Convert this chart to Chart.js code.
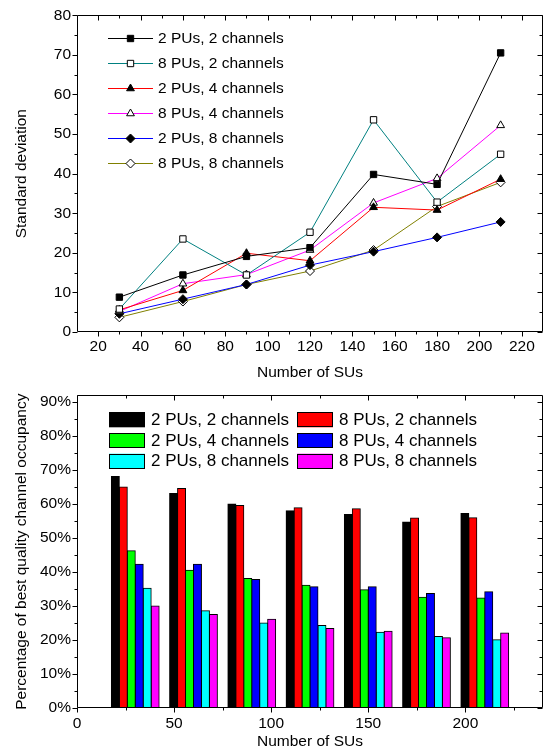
<!DOCTYPE html>
<html>
<head>
<meta charset="utf-8">
<script src="https://cdn.jsdelivr.net/npm/chart.js@4.4.0/dist/chart.umd.min.js"></script>
<style>
    body { margin: 0; background: #fff; }
    .box { position: absolute; left: 0; }
</style>
</head>
<body>
<div class="box" style="top:0"><canvas id="line-chart" width="549" height="380"></canvas></div>
<div class="box" style="top:380px"><canvas id="bar-chart" width="549" height="371"></canvas></div>
<script>
// Number of SUs (x values of both charts)
const suCounts = [30, 60, 90, 120, 150, 180, 210];
const seriesNames = ["2 PUs, 2 channels", "8 PUs, 2 channels", "2 PUs, 4 channels",
                     "8 PUs, 4 channels", "2 PUs, 8 channels", "8 PUs, 8 channels"];

// tick labels
const sdXTicks = [20, 40, 60, 80, 100, 120, 140, 160, 180, 200, 220];
const sdYTicks = [0, 10, 20, 30, 40, 50, 60, 70, 80];
const occXTicks = [0, 50, 100, 150, 200];
const occYTicks = [0, 10, 20, 30, 40, 50, 60, 70, 80, 90];

// Standard deviation (top chart)
const sd2pu2ch = [8.8, 14.4, 19.1, 21.3, 39.8, 37.3, 70.5];
const sd8pu2ch = [5.8, 23.5, 14.4, 25.2, 53.6, 32.8, 44.9];
const sd2pu4ch = [5.6, 10.5, 19.9, 18.0, 31.5, 30.8, 38.6];
const sd8pu4ch = [5.2, 12.2, 14.5, 20.7, 32.6, 38.8, 52.2];
const sd2pu8ch = [4.6, 8.3, 12.0, 16.9, 20.3, 23.9, 27.8];
const sd8pu8ch = [3.7, 7.7, 12.0, 15.4, 20.7, 31.7, 37.8];

// Percentage of best quality channel occupancy (bottom chart)
const occ2pu2ch = [68.1, 63.1, 60.0, 58.0, 56.9, 54.7, 57.2];
const occ8pu2ch = [65.0, 64.6, 59.6, 58.9, 58.6, 55.9, 56.0];
const occ2pu4ch = [46.3, 40.5, 38.1, 36.1, 34.8, 32.6, 32.4];
const occ8pu4ch = [42.3, 42.3, 37.8, 35.7, 35.7, 33.7, 34.2];
const occ2pu8ch = [35.2, 28.6, 25.0, 24.3, 22.3, 21.0, 20.1];
const occ8pu8ch = [30.0, 27.5, 26.1, 23.4, 22.6, 20.7, 22.1];

const FONT = '"Liberation Sans", Arial, sans-serif';
Chart.defaults.font.family = FONT;
Chart.defaults.font.size = 15.5;
Chart.defaults.color = "#000";

const toPoints = (vals) => vals.map((v, i) => ({x: suCounts[i], y: v}));
const fixTicks = (list) => (scale) => { scale.ticks = list.map(v => ({value: v})); };

// frame round the plot area, ticks out on left/bottom and in on top/right
const frameTicks = {
    id: "frameTicks",
    afterDraw(chart) {
        const {ctx, chartArea: a, scales: {x, y}} = chart;
        const L = Math.round(a.left) + 0.5, R = Math.round(a.right) - 0.5;
        const T = Math.round(a.top) + 0.5, B = Math.round(a.bottom) - 0.5;
        ctx.save();
        ctx.strokeStyle = "#000";
        ctx.lineWidth = 1;
        ctx.beginPath();
        ctx.rect(L, T, R - L, B - T);
        const mark = (scale, horiz) => {
            const vals = scale.ticks.map(t => t.value);
            const step = vals[1] - vals[0];
            const minor = [];
            for (let v = vals[0] - step / 2; v < scale.max; v += step) {
                if (v > scale.min) minor.push(v);
            }
            [[vals, 5], [minor, 3]].forEach(([list, len]) => list.forEach(v => {
                const p = Math.round(scale.getPixelForValue(v)) + 0.5;
                if (horiz) {
                    ctx.moveTo(p, B); ctx.lineTo(p, B + len);
                    ctx.moveTo(p, T); ctx.lineTo(p, T + len);
                } else {
                    ctx.moveTo(L, p); ctx.lineTo(L - len, p);
                    ctx.moveTo(R, p); ctx.lineTo(R - len, p);
                }
            }));
        };
        mark(x, true);
        mark(y, false);
        ctx.stroke();
        ctx.restore();
    }
};

// legend with line + marker
const lineLegend = {
    id: "lineLegend",
    afterDraw(chart) {
        const {ctx, chartArea: a} = chart;
        const x0 = a.left + 31, x1 = a.left + 76, tx = a.left + 81;
        ctx.save();
        ctx.font = "15.5px " + FONT;
        ctx.textBaseline = "middle";
        chart.data.datasets.forEach((ds, i) => {
            const yy = Math.round(a.top + 23 + i * 25) + 0.5;
            ctx.strokeStyle = ds.borderColor;
            ctx.lineWidth = 1;
            ctx.beginPath();
            ctx.moveTo(x0, yy); ctx.lineTo(x1, yy);
            ctx.stroke();
            ctx.fillStyle = ds.pointBackgroundColor;
            ctx.strokeStyle = "#000";
            Chart.helpers.drawPoint(ctx, {pointStyle: ds.pointStyle, radius: 4.5, borderWidth: 1, rotation: 0},
                (x0 + x1) / 2, yy);
            ctx.fillStyle = "#000";
            ctx.fillText(ds.label, tx, yy);
        });
        ctx.restore();
    }
};

// legend with filled boxes, two columns
const boxLegend = {
    id: "boxLegend",
    afterDraw(chart) {
        const {ctx, chartArea: a} = chart;
        ctx.save();
        ctx.font = "17px " + FONT;
        ctx.textBaseline = "middle";
        chart.data.datasets.forEach((ds, i) => {
            const col = i % 2, row = Math.floor(i / 2);
            const bx = a.left + 32 + col * 188;
            const yy = a.top + 24 + row * 20.7;
            ctx.fillStyle = ds.backgroundColor;
            ctx.fillRect(bx, yy - 7, 36, 15);
            ctx.strokeStyle = "#000";
            ctx.lineWidth = 1;
            ctx.strokeRect(Math.round(bx) + 0.5, Math.round(yy - 7) + 0.5, 35, 14);
            ctx.fillStyle = "#000";
            ctx.fillText(ds.label, bx + 42, yy + 1);
        });
        ctx.restore();
    }
};

// Line chart: standard deviation
const lineColors = ["#000000", "#008080", "#ff0000", "#ff00ff", "#0000ff", "#808000"];
const lineStyles = ["rect", "rect", "triangle", "triangle", "rectRot", "rectRot"];
const lineFills = ["#000", "#fff", "#000", "#fff", "#000", "#fff"];
const sdSeries = [sd2pu2ch, sd8pu2ch, sd2pu4ch, sd8pu4ch, sd2pu8ch, sd8pu8ch];

const ctx1 = document.getElementById("line-chart").getContext("2d");
const lineChart = new Chart(ctx1, {
    type: "line",
    data: {
        datasets: sdSeries.map((vals, i) => ({
            label: seriesNames[i],
            data: toPoints(vals),
            borderColor: lineColors[i],
            borderWidth: 1,
            tension: 0,
            pointStyle: lineStyles[i],
            pointRadius: 4.5,
            pointBackgroundColor: lineFills[i],
            pointBorderColor: "#000",
            pointBorderWidth: 1
        }))
    },
    options: {
        responsive: false,
        animation: false,
        devicePixelRatio: 1,
        layout: {padding: {top: 11, right: 6, left: 0, bottom: 0}},
        plugins: {legend: {display: false}, tooltip: {enabled: false}},
        scales: {
            x: {
                type: "linear", min: 10, max: 230,
                grid: {display: false, drawTicks: false},
                border: {display: false},
                ticks: {padding: 5},
                afterBuildTicks: fixTicks(sdXTicks),
                title: {display: true, text: "Number of SUs", font: {lineHeight: 1}, padding: 0},
                afterFit(s) { s.height = 48; }
            },
            y: {
                min: 0, max: 80,
                grid: {display: false, drawTicks: false},
                border: {display: false},
                ticks: {padding: 6},
                afterBuildTicks: fixTicks(sdYTicks),
                title: {display: true, text: "Standard deviation", font: {lineHeight: 1}, padding: {top: 14, bottom: 0}},
                afterFit(s) { s.width = 77; }
            }
        }
    },
    plugins: [frameTicks, lineLegend]
});

// Bar chart: best quality channel occupancy
const barColors = ["#000000", "#ff0000", "#00ff00", "#0000ff", "#00ffff", "#ff00ff"];
const occSeries = [occ2pu2ch, occ8pu2ch, occ2pu4ch, occ8pu4ch, occ2pu8ch, occ8pu8ch];

const ctx2 = document.getElementById("bar-chart").getContext("2d");
const barChart = new Chart(ctx2, {
    type: "bar",
    data: {
        datasets: occSeries.map((vals, i) => ({
            label: seriesNames[i],
            data: toPoints(vals),
            backgroundColor: barColors[i],
            borderColor: "#000",
            borderWidth: 1,
            inflateAmount: 0.5,
            barPercentage: 1.0,
            categoryPercentage: 0.82
        }))
    },
    options: {
        responsive: false,
        animation: false,
        devicePixelRatio: 1,
        layout: {padding: {top: 7, right: 6, left: 0, bottom: 0}},
        plugins: {legend: {display: false}, tooltip: {enabled: false}},
        scales: {
            x: {
                type: "linear", min: 0, max: 240, offset: false,
                grid: {display: false, drawTicks: false, offset: false},
                border: {display: false},
                ticks: {padding: 6},
                afterBuildTicks: fixTicks(occXTicks),
                title: {display: true, text: "Number of SUs", font: {lineHeight: 1}, padding: {top: 0, bottom: 1.5}},
                afterFit(s) { s.height = 43; }
            },
            y: {
                min: 0, max: 92,
                grid: {display: false, drawTicks: false},
                border: {display: false},
                ticks: {padding: 6, callback: v => v + "%"},
                afterBuildTicks: fixTicks(occYTicks),
                title: {display: true, text: "Percentage of best quality channel occupancy", font: {lineHeight: 1}, padding: {top: 14, bottom: 0}},
                afterFit(s) { s.width = 77; }
            }
        }
    },
    plugins: [frameTicks, boxLegend]
});
</script>
</body>
</html>
